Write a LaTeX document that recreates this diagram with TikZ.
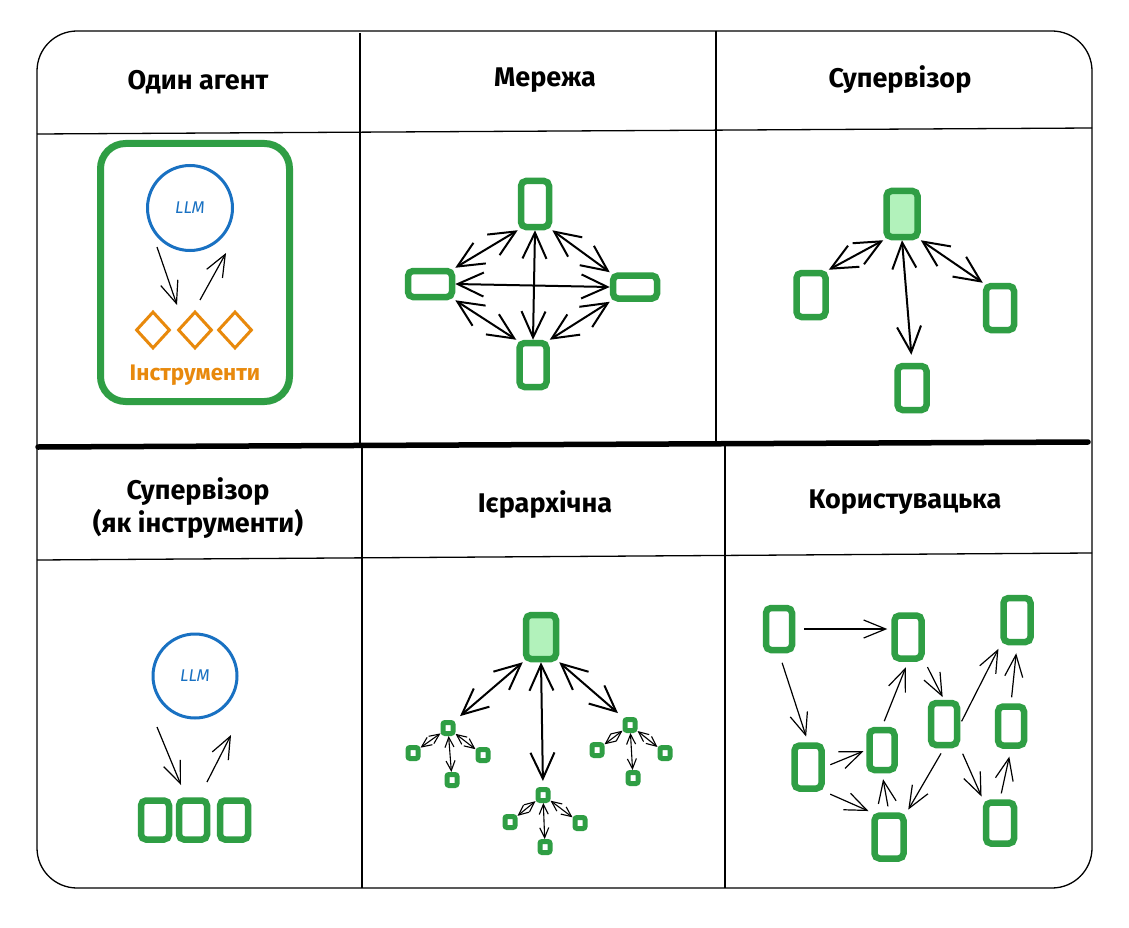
\documentclass[tikz,border=0pt]{standalone}
\usepackage{fontspec}
\setmainfont{Fira Sans}
\usetikzlibrary{arrows.meta,shapes.geometric}
\definecolor{gr}{HTML}{2F9E44}
\definecolor{grfill}{HTML}{B2F2BB}
\definecolor{bl}{HTML}{1971C2}
\definecolor{orng}{HTML}{E8890C}
\begin{document}
\begin{tikzpicture}[x=1pt,y=-1pt,
  box/.style={draw=gr,line width=6.5pt,rounded corners=5pt,inner sep=0pt,minimum width=29pt,minimum height=45pt},
  fbox/.style={box,fill=grfill},
  sbox/.style={draw=gr,line width=5pt,rounded corners=2pt,inner sep=0pt,minimum width=10pt,minimum height=11pt},
  arr/.style={-{Straight Barb[length=22pt,width=18pt]},line width=1.2pt},
  darr/.style={{Straight Barb[length=26pt,width=24pt]}-{Straight Barb[length=26pt,width=24pt]},line width=2pt},
  sdarr/.style={{Straight Barb[length=10pt,width=9pt]}-{Straight Barb[length=10pt,width=9pt]},line width=1.1pt},
  head/.style={font=\fontsize{27}{33}\selectfont\bfseries,align=center},
  llm/.style={circle,draw=bl,line width=3pt,minimum size=85pt,inner sep=0pt,font=\itshape\fontsize{17}{20}\selectfont,text=bl},
  dia/.style={diamond,draw=orng,line width=3pt,minimum width=34pt,minimum height=37pt,inner sep=0pt},
  grid/.style={line width=1.3pt}
]
\useasboundingbox (0,0) rectangle (1129,928);
\fill[white] (0,0) rectangle (1129,928);
% frame and grid
\draw[grid,rounded corners=40pt] (37,31) rectangle (1092,888);
\draw[grid] (360,33) -- (360,446);
\draw[grid] (362,446) -- (362,888);
\draw[grid] (716,31) -- (716,444);
\draw[grid] (725,444) -- (725,888);
\draw[grid] (37,134) -- (1092,128);
\draw[grid] (37,560) -- (1092,553);
\draw[line width=5.5pt,line cap=round] (38,447) -- (1088,442);
% headers
\node[head] (h1) at (198,82) {Один агент};
\node[head] (h2) at (545,80) {Мережа};
\node[head] (h3) at (900,80) {Супервізор};
\node[head] (h4) at (198,508) {Супервізор\\(як інструменти)};
\node[head] (h5) at (545,505) {Ієрархічна};
\node[head] (h6) at (905,502) {Користувацька};
% cell 1: single agent
\node[draw=gr,line width=7pt,rounded corners=25pt,minimum width=189pt,minimum height=258pt] (agent) at (195,272.5) {};
\node[llm] (llm1) at (190,208) {LLM};
\node[dia] (d1) at (153,330) {};
\node[dia] (d2) at (195,330) {};
\node[dia] (d3) at (235,330) {};
\node[text=orng,font=\fontsize{22.5}{27}\selectfont\bfseries] (tools) at (195,375) {Інструменти};
\draw[arr] ([shift={(-33,39)}]llm1.center) -- ([shift={(-18,-25)}]d2.center);
\draw[arr] ([shift={(5,-30)}]d2.center) -- ([shift={(36,45)}]llm1.center);
% cell 2: network
\node[box,minimum width=28pt,minimum height=46pt] (nT) at (535,204) {};
\node[box,minimum width=44pt,minimum height=26pt] (nL) at (430,284) {};
\node[box,minimum width=44pt,minimum height=23pt] (nR) at (635,287) {};
\node[box,minimum width=27pt,minimum height=44pt] (nB) at (533,365) {};
\draw[darr] (nL.north east) -- (nT.south west);
\draw[darr] (nT.south east) -- (nR.north west);
\draw[darr] (nL.south east) -- (nB.north west);
\draw[darr] (nB.north east) -- (nR.south west);
\draw[darr] (nL.east) -- (nR.west);
\draw[darr] (nT.south) -- (nB.north);
% cell 3: supervisor
\node[fbox,minimum width=31pt,minimum height=46pt] (sT) at (902,214) {};
\node[box,minimum width=29pt,minimum height=44pt] (sL) at (811,295) {};
\node[box,minimum width=28pt,minimum height=44pt] (sR) at (1000,308) {};
\node[box,minimum width=29pt,minimum height=44pt] (sB) at (912,388) {};
\draw[darr] (sT.south west) -- (sL.north east);
\draw[darr] (sT.south east) -- (sR.north west);
\draw[darr,shorten >=8pt] (sT.south) -- (sB.north);
% cell 4: supervisor as tools
\node[llm,minimum size=84pt] (llm2) at (195,676) {LLM};
\node[box,minimum width=28pt,minimum height=39pt] (b1) at (155,820) {};
\node[box,minimum width=28pt,minimum height=39pt] (b2) at (193,820) {};
\node[box,minimum width=28pt,minimum height=39pt] (b3) at (234,820) {};
\draw[arr] ([shift={(-38,51)}]llm2.center) -- ([shift={(-12,-35)}]b2.center);
\draw[arr] ([shift={(14,-38)}]b2.center) -- ([shift={(36,59)}]llm2.center);
% cell 5: hierarchical
\node[fbox,minimum width=30pt,minimum height=44pt] (hR) at (541,637) {};
\node[sbox] (hA) at (448,728) {};
\node[sbox] (hB) at (543,795) {};
\node[sbox] (hC) at (630,725) {};
\node[sbox] (a1) at (413,753) {};
\node[sbox] (a2) at (452,780) {};
\node[sbox] (a3) at (483,755) {};
\node[sbox] (b1h) at (510,822) {};
\node[sbox] (b2h) at (545,847) {};
\node[sbox] (b3h) at (580,823) {};
\node[sbox] (c1) at (597,750) {};
\node[sbox] (c2) at (633,778) {};
\node[sbox] (c3) at (665,753) {};
\draw[darr,shorten >=6pt] (hR.south west) -- (hA.north east);
\draw[darr,shorten >=6pt] (hR.south) -- (hB.north);
\draw[darr,shorten >=6pt] (hR.south east) -- (hC.north west);
\foreach \p/\c in {hA/a1,hA/a2,hA/a3,hB/b1h,hB/b2h,hB/b3h,hC/c1,hC/c2,hC/c3}
  \draw[sdarr] (\p) -- (\c);
% cell 6: custom
\node[box,minimum width=26pt,minimum height=42pt] (A) at (779,629) {};
\node[box,minimum width=27pt,minimum height=43pt] (B) at (908,637) {};
\node[box,minimum width=27pt,minimum height=44pt] (C) at (1017,620) {};
\node[box,minimum width=26pt,minimum height=42pt] (D) at (944,724) {};
\node[box,minimum width=26pt,minimum height=39pt] (E) at (1011,726) {};
\node[box,minimum width=27pt,minimum height=43pt] (F) at (808,767) {};
\node[box,minimum width=25pt,minimum height=40pt] (G) at (882,750) {};
\node[box,minimum width=29pt,minimum height=43pt] (H) at (889,837) {};
\node[box,minimum width=28pt,minimum height=41pt] (I) at (1000,823) {};
\draw[arr] ([xshift=9pt]A.east) -- ([xshift=-4pt]B.west |- A.east);
\draw[arr,shorten <=10pt,shorten >=6pt] (A.south) -- (F.north);
\draw[arr,shorten <=6pt,shorten >=3pt] (F.east) -- (G.west);
\draw[arr,shorten <=6pt,shorten >=3pt] (F.south east) -- (H.north west);
\draw[arr,shorten <=6pt,shorten >=6pt] (H.north) -- (G.south);
\draw[arr,shorten <=6pt,shorten >=6pt] (G.north) -- (B.south);
\draw[arr,shorten <=6pt,shorten >=3pt] (B.south east) -- (D.north);
\draw[arr,shorten <=6pt,shorten >=3pt] (D.south) -- (H.north east);
\draw[arr,shorten <=6pt,shorten >=3pt] (D.south east) -- (I.north west);
\draw[arr,shorten <=3pt,shorten >=4pt] (D.east) -- (C.south west);
\draw[arr,shorten <=6pt,shorten >=8pt] (I.north) -- (E.south);
\draw[arr,shorten <=6pt,shorten >=8pt] (E.north) -- (C.south);
\end{tikzpicture}
\end{document}
